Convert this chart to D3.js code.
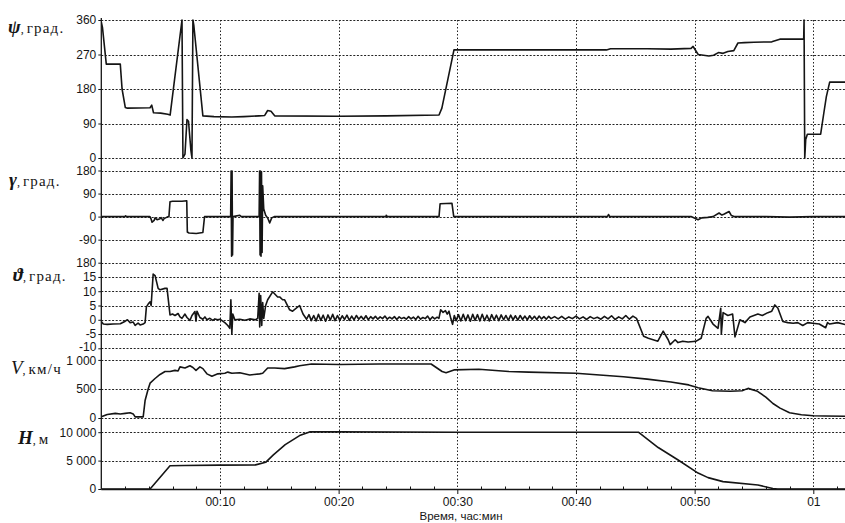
<!DOCTYPE html>
<html>
<head>
<meta charset="utf-8">
<script src="https://cdn.jsdelivr.net/npm/d3@7"></script>
<style>
  body { margin: 0; background: #fff; }
  svg { display: block; }
</style>
</head>
<body>
<svg id="chart" width="845" height="523"></svg>
<script>
// Flight record: heading, roll, pitch, speed and altitude against time (minutes)

const timeTicks = [10, 20, 30, 40, 50, 60];
const timeTickLabels = ["00:10", "00:20", "00:30", "00:40", "00:50", "01"];
const timeMinorTicks = d3.range(2, 63, 2);

const psiTicks = [0, 90, 180, 270, 360];
const psiTickLabels = ["0", "90", "180", "270", "360"];
const gammaTicks = [-180, -90, 0, 90, 180];
const gammaTickLabels = ["180", "-90", "0", "90", "180"];
const thetaTicks = [-10, -5, 0, 5, 10, 15];
const thetaTickLabels = ["-10", "-5", "0", "5", "10", "15"];
const speedTicks = [0, 500, 1000];
const speedTickLabels = ["0", "500", "1 000"];
const altTicks = [0, 5000, 10000];
const altTickLabels = ["0", "5 000", "10 000"];

// Heading ψ, degrees
const psiSeries = [
  [0, 355], [0.1, 340], [0.42, 245], [1.6, 245], [1.75, 180], [2.02, 132], [2.2, 130],
  [4.11, 131], [4.25, 138], [4.4, 118], [5.0, 117], [5.6, 114], [5.8, 112],
  [6.8, 360], [6.88, 0], [7.05, 10], [7.22, 100], [7.35, 96], [7.55, 20], [7.64, 0],
  [7.72, 360], [7.8, 345], [8.56, 110], [9.5, 108], [11.0, 107], [12.0, 108],
  [13.3, 110], [13.77, 111], [14.02, 124], [14.3, 122], [14.61, 110], [20, 109],
  [24, 110], [28.46, 112], [28.7, 130], [29.72, 282], [35, 282], [42.57, 282],
  [42.91, 285], [46, 285], [48, 284], [49.7, 286], [49.87, 291], [50.3, 270],
  [51.2, 266], [51.6, 268], [52.0, 275], [52.4, 273], [52.8, 278], [53.3, 280],
  [53.65, 300], [54.2, 301], [55, 302], [56.5, 303], [57.18, 310], [59.19, 310],
  [59.22, 360], [59.28, 0], [59.36, 48], [59.5, 62], [60.62, 62], [60.9, 120],
  [61.1, 160], [61.38, 198], [62.7, 198]
];

// Roll γ, degrees
const gammaSeries = [
  [0, 0], [2.0, 0], [2.05, 3], [2.1, 0], [4.1, 0], [4.2, -10], [4.28, -22], [4.45, -15],
  [4.53, -5], [4.7, -12], [4.95, -8], [5.04, -4], [5.2, -15], [5.29, -8], [5.54, -2],
  [5.7, 0], [5.79, 58], [6.0, 60], [6.8, 60], [7.2, 62], [7.25, -60], [7.39, -64],
  [8.0, -66], [8.56, -62], [8.7, 0], [10.9, 0], [10.94, 178], [10.98, -155],
  [11.02, 178], [11.06, -150], [11.1, 0], [11.67, 5], [11.8, 0], [13.3, 0],
  [13.34, 178], [13.38, -150], [13.42, 178], [13.46, -155], [13.5, 175],
  [13.55, -140], [13.6, 120], [13.69, 30], [13.85, 5], [14.02, -5], [14.19, -25],
  [14.36, -5], [14.61, 0], [24.0, 0], [24.01, 5], [24.1, 0], [28.46, 0],
  [28.55, 50], [29.55, 52], [29.7, 0], [42.65, 0], [42.74, 8], [42.85, 0],
  [49.7, 0], [50.29, -12], [50.6, -5], [51.1, -3], [51.55, 0], [52.06, 14],
  [52.3, 6], [52.5, 10], [52.9, 20], [53.1, 4], [53.32, 0], [56, 0], [58, -2],
  [60, 0], [62.7, 0]
];

// Pitch ϑ, degrees
const thetaSeries = [
  [0, -0.6], [0.17, -1.5], [0.5, -1.6], [1.0, -1.5], [1.6, -1.4], [2.02, -0.5],
  [2.2, 0.0], [2.43, -1.0], [2.69, -0.8], [2.85, -2.0], [3.1, -1.2], [3.27, -1.8],
  [3.53, -1.5], [3.69, -1.0], [3.8, 4.5], [3.95, 5.5], [4.11, 6.3], [4.2, 5.0],
  [4.37, 16], [4.53, 15.5], [4.79, 11], [4.95, 10.5], [5.37, 11], [5.54, 11],
  [5.79, 1.7], [6.0, 2.0], [6.21, 1.5], [6.47, 2.2], [6.63, 1.0], [6.8, 0.5],
  [7.05, 2.0], [7.22, 0.8], [7.47, -0.2], [7.64, 1.5], [7.89, 2.9], [7.98, -0.5],
  [8.06, 3.0], [8.31, 0.8], [8.56, 0.2], [8.73, 1.0], [8.9, 0.0], [9.15, 0.5],
  [9.4, -0.2], [9.57, 0.3], [9.82, 0.0], [9.99, 0.2], [10.41, -1.0], [10.66, -2.0],
  [10.83, -3.0], [10.92, 7.0], [11.0, -5.0], [11.08, 2.0], [11.25, 0.0],
  [11.67, 0.2], [12.1, -0.2], [12.51, 0.3], [13.0, 0.0], [13.18, 0.5], [13.3, 9.3],
  [13.35, -2.5], [13.43, 8.5], [13.52, -2.0], [13.6, 6], [13.69, 0.5], [13.85, 5],
  [14.02, 7], [14.44, 9.8], [14.86, 8], [15.03, 8], [15.28, 7], [15.45, 7],
  [15.87, 3.5], [16.12, 3.0], [16.71, 5.0], [17.0, 2.0],
  [17.3, 0.2], [17.5, 1.8], [17.7, -0.3], [17.9, 1.5], [18.1, -0.4], [18.3, 1.9],
  [18.5, -0.2], [18.7, 1.6], [18.9, -0.5], [19.1, 1.7], [19.3, -0.1], [19.5, 1.9],
  [19.7, -0.3], [19.9, 1.5], [20.1, -0.2], [20.3, 1.4], [20.5, 0.1], [20.7, 1.6],
  [20.9, -0.2], [21.1, 1.3], [21.3, 0.0], [21.5, 1.5], [21.7, 0.2], [21.9, 1.2],
  [22.1, 0.1], [22.3, 1.4], [22.5, 0.0], [22.7, 1.1], [22.9, 0.3], [23.1, 1.2],
  [23.3, 0.2], [23.5, 1.0], [23.7, 0.4], [23.9, 1.3], [24.1, 0.2], [24.3, 0.9],
  [24.5, 0.3], [24.7, 1.1], [24.9, 0.1], [25.1, 1.0], [25.3, 0.4], [25.5, 0.8],
  [25.7, 0.2], [25.9, 1.1], [26.1, 0.3], [26.3, 0.9], [26.5, 0.1], [26.7, 1.2],
  [26.9, 0.2], [27.1, 0.8], [27.3, 0.4], [27.5, 1.3], [27.7, 0.0], [27.9, 1.0],
  [28.1, 0.3], [28.3, 0.9], [28.45, 0.5],
  [28.6, 3.5], [28.8, 2.6], [29.0, 3.2], [29.15, 2.0], [29.3, 3.0], [29.45, 0.5],
  [29.6, -1.6], [29.75, 1.5],
  [29.9, -0.3], [30.1, 1.8], [30.3, -0.4], [30.5, 1.9], [30.7, -0.3], [30.9, 1.7],
  [31.1, -0.5], [31.3, 1.9], [31.5, -0.2], [31.7, 1.8], [31.9, -0.4], [32.1, 1.9],
  [32.3, -0.3], [32.5, 1.6], [32.7, -0.4], [32.9, 1.8], [33.1, -0.1], [33.3, 1.6],
  [33.5, -0.3], [33.7, 1.7], [33.9, 0.0], [34.1, 1.5], [34.3, -0.2], [34.5, 1.6],
  [34.7, 0.0], [34.9, 1.4], [35.1, -0.1], [35.3, 1.5], [35.5, 0.1], [35.7, 1.3],
  [35.9, 0.0], [36.1, 1.4], [36.3, 0.2], [36.5, 1.2], [36.7, 0.1], [36.9, 1.3],
  [37.1, 0.3], [37.3, 1.1], [37.5, 0.2], [37.7, 1.2], [37.9, 0.4],
  [38.2, 1.1], [38.5, 0.3], [38.8, 1.2], [39.1, 0.2], [39.4, 1.0], [39.7, 0.4],
  [40.0, 1.3], [40.3, 0.3], [40.6, 1.0], [40.9, 0.1], [41.2, 1.1], [41.5, 0.4],
  [41.8, 0.9], [42.1, 0.2], [42.4, 1.2], [42.7, 0.3], [43.0, 1.4], [43.3, 0.1],
  [43.6, 1.0], [43.9, 0.3], [44.2, 1.5], [44.5, 0.2], [44.8, 1.3], [45.1, 0.5],
  [45.7, -5.8], [46.1, -6.5], [46.5, -7], [46.9, -7.5], [47.35, -4], [47.77, -7],
  [47.94, -8.7], [48.36, -7], [48.6, -8], [49.0, -7.5], [49.45, -7.8], [49.9, -7.6],
  [50.13, -7.5], [50.55, -6.5], [50.97, 0.5], [51.13, 1.2], [51.55, -1.5],
  [51.97, -3.0], [52.2, 4.0], [52.25, -5.0], [52.4, 2.5], [52.8, 1.5], [53.2, 2.0],
  [53.4, -6], [53.82, 0.0], [54.24, -1.0], [54.66, 1.0], [55.33, 2.0], [55.7, 1.5],
  [56.17, 2.5], [56.5, 3.0], [56.76, 5.2], [57.01, 4.1], [57.43, -0.6],
  [57.85, -1.0], [58.3, -1.2], [58.69, -1.0], [59.11, -2.0], [59.53, -1.0],
  [59.95, -1.2], [60.5, -1.5], [61.04, -2.8], [61.2, -1.0], [61.38, -1.5],
  [62.05, -1.0], [62.7, -1.7]
];

// Ground speed V, km/h
const speedSeries = [
  [0, 20], [0.5, 60], [1.18, 80], [1.6, 70], [2.02, 80], [2.43, 90], [2.69, 70],
  [2.85, 20], [3.53, 20], [3.69, 300], [3.95, 500], [4.11, 600], [4.53, 680],
  [4.95, 750], [5.37, 800], [5.79, 800], [6.21, 820], [6.47, 810], [6.63, 880],
  [7.05, 860], [7.47, 900], [7.72, 870], [7.98, 820], [8.31, 880], [8.56, 850],
  [8.9, 760], [9.32, 720], [9.82, 760], [10.41, 770], [10.66, 790], [11.0, 770],
  [11.67, 780], [12.51, 740], [13.35, 760], [13.6, 770], [14.02, 860], [14.61, 860],
  [15.45, 850], [16.29, 880], [16.71, 900], [17.72, 930], [20.07, 920],
  [23.43, 930], [27.79, 930], [28.72, 800], [29.05, 780], [29.72, 828],
  [31.82, 840], [34.34, 800], [36.02, 790], [40, 770], [42, 740], [44, 710],
  [46, 670], [48, 620], [49.5, 570], [50.3, 520], [51.5, 470], [53, 460],
  [54, 470], [54.5, 510], [55.3, 460], [56.0, 360], [56.6, 250], [57.2, 170],
  [58, 90], [59, 55], [60, 40], [61, 35], [62.7, 30]
];

// Altitude H, m
const altSeries = [
  [0, 0], [4.11, 0], [5.79, 4100], [7, 4150], [10, 4200], [13.0, 4250],
  [13.85, 4700], [14.5, 6000], [15.5, 7800], [16.71, 9400], [17.55, 10050],
  [20, 10050], [30, 10000], [45.26, 10000], [46.93, 7300], [48.61, 5100],
  [50.29, 2800], [51.13, 2000], [52.39, 1300], [55.33, 700], [56.59, 100],
  [57, 0], [62.7, 0]
];

const svg = d3.select("#chart");
const plotLeft = 101.3, plotRight = 845, plotTop = 20, plotBottom = 489;

const x = d3.scaleLinear().domain([0, 60]).range([plotLeft, 813.3]);

// each panel: value scale, plus a small vertical nudge for crowded edge labels
const panels = [
  { ticks: psiTicks, labels: psiTickLabels, series: psiSeries, nudge: {},
    y: d3.scaleLinear().domain([0, 360]).range([158, 20]) },
  { ticks: gammaTicks, labels: gammaTickLabels, series: gammaSeries, nudge: {},
    y: d3.scaleLinear().domain([-180, 180]).range([262.7, 170.5]) },
  { ticks: thetaTicks, labels: thetaTickLabels, series: thetaSeries, nudge: { "-10": -1.2 },
    y: d3.scaleLinear().domain([-10, 20]).range([348.3, 262.7]) },
  { ticks: speedTicks, labels: speedTickLabels, series: speedSeries, nudge: { "1000": 1.2 },
    y: d3.scaleLinear().domain([0, 1200]).range([418, 348.3]) },
  { ticks: altTicks, labels: altTickLabels, series: altSeries, nudge: {},
    y: d3.scaleLinear().domain([0, 12500]).range([489, 418]) }
];

const ink = "#151515";
const grid = svg.append("g").attr("stroke", "#222").attr("stroke-width", 1);

// horizontal dotted grid lines
panels.forEach((p, i) => {
  p.ticks.forEach(v => {
    if (i === 4 && v === 0) return;
    const yy = Math.round(p.y(v)) + 0.5;
    grid.append("line")
      .attr("x1", plotLeft).attr("x2", plotRight)
      .attr("y1", yy).attr("y2", yy)
      .attr("stroke-dasharray", "2,1.6");
  });
});

// vertical dotted grid lines
timeTicks.forEach(t => {
  const xx = Math.round(x(t)) + 0.5;
  grid.append("line")
    .attr("x1", xx).attr("x2", xx)
    .attr("y1", plotTop).attr("y2", plotBottom)
    .attr("stroke-dasharray", "1.5,2");
});

// series lines
panels.forEach((p, i) => {
  const [y0, y1] = p.y.range();
  const clipId = "clip" + i;
  svg.append("clipPath").attr("id", clipId)
    .append("rect").attr("x", plotLeft).attr("y", Math.min(y0, y1) - 1)
    .attr("width", plotRight - plotLeft).attr("height", Math.abs(y0 - y1) + 2);
  const line = d3.line().x(d => x(d[0])).y(d => p.y(d[1]));
  svg.append("path")
    .datum(p.series)
    .attr("clip-path", `url(#${clipId})`)
    .attr("d", line)
    .attr("fill", "none")
    .attr("stroke", ink)
    .attr("stroke-width", 1.6)
    .attr("stroke-linejoin", "round");
});

// left value axes
panels.forEach(p => {
  const ax = d3.axisLeft(p.y).tickValues(p.ticks)
    .tickFormat((d, k) => p.labels[k]).tickSize(3).tickPadding(2);
  const g = svg.append("g").attr("transform", `translate(${plotLeft},0)`).call(ax);
  g.select(".domain").remove();
  g.selectAll("line").attr("stroke", ink);
  g.selectAll("text")
    .attr("font-family", "Liberation Sans, Arial, sans-serif")
    .attr("font-size", 12)
    .attr("fill", ink)
    .attr("y", d => p.nudge[String(d)] || 0);
});
svg.append("line")
  .attr("x1", plotLeft).attr("x2", plotLeft).attr("y1", plotTop - 2).attr("y2", plotBottom)
  .attr("stroke", ink).attr("stroke-width", 1.3);

// time axis
const xAxis = d3.axisBottom(x).tickValues(timeTicks)
  .tickFormat((d, k) => timeTickLabels[k]).tickSize(5).tickPadding(3);
const gx = svg.append("g").attr("transform", `translate(0,${plotBottom})`).call(xAxis);
gx.select(".domain").remove();
gx.selectAll("line").attr("stroke", ink);
gx.selectAll("text")
  .attr("font-family", "Liberation Sans, Arial, sans-serif")
  .attr("font-size", 12)
  .attr("fill", ink);
svg.append("line")
  .attr("x1", plotLeft).attr("x2", plotRight).attr("y1", plotBottom + 0.5).attr("y2", plotBottom + 0.5)
  .attr("stroke", ink).attr("stroke-width", 1.3);
svg.append("g").selectAll("line")
  .data(timeMinorTicks.filter(t => t % 10 !== 0))
  .join("line")
  .attr("x1", d => Math.round(x(d)) + 0.5).attr("x2", d => Math.round(x(d)) + 0.5)
  .attr("y1", plotBottom - 2.5).attr("y2", plotBottom)
  .attr("stroke", ink);

svg.append("text")
  .attr("x", 461).attr("y", 519.5)
  .attr("text-anchor", "middle")
  .attr("font-family", "Liberation Sans, Arial, sans-serif")
  .attr("font-size", 11.5)
  .attr("fill", ink)
  .text("Время, час:мин");

// panel titles
const titles = [
  { sym: "ψ", unit: "град.", x: 8, y: 33, bold: true },
  { sym: "γ", unit: "град.", x: 9, y: 186, bold: true },
  { sym: "ϑ", unit: "град.", x: 13, y: 281, bold: true },
  { sym: "V", unit: "км/ч", x: 11, y: 374, bold: false },
  { sym: "H", unit: "м", x: 18, y: 444, bold: true }
];
titles.forEach(t => {
  const tx = svg.append("text")
    .attr("x", t.x).attr("y", t.y)
    .attr("font-family", "Liberation Serif, Times New Roman, serif")
    .attr("fill", ink);
  tx.append("tspan")
    .attr("font-size", 19)
    .attr("font-style", "italic")
    .attr("font-weight", t.bold ? "bold" : "normal")
    .text(t.sym);
  tx.append("tspan").attr("font-size", 12).text(", ");
  tx.append("tspan").attr("font-size", 15).attr("letter-spacing", 1.2).text(t.unit);
});
</script>
</body>
</html>
